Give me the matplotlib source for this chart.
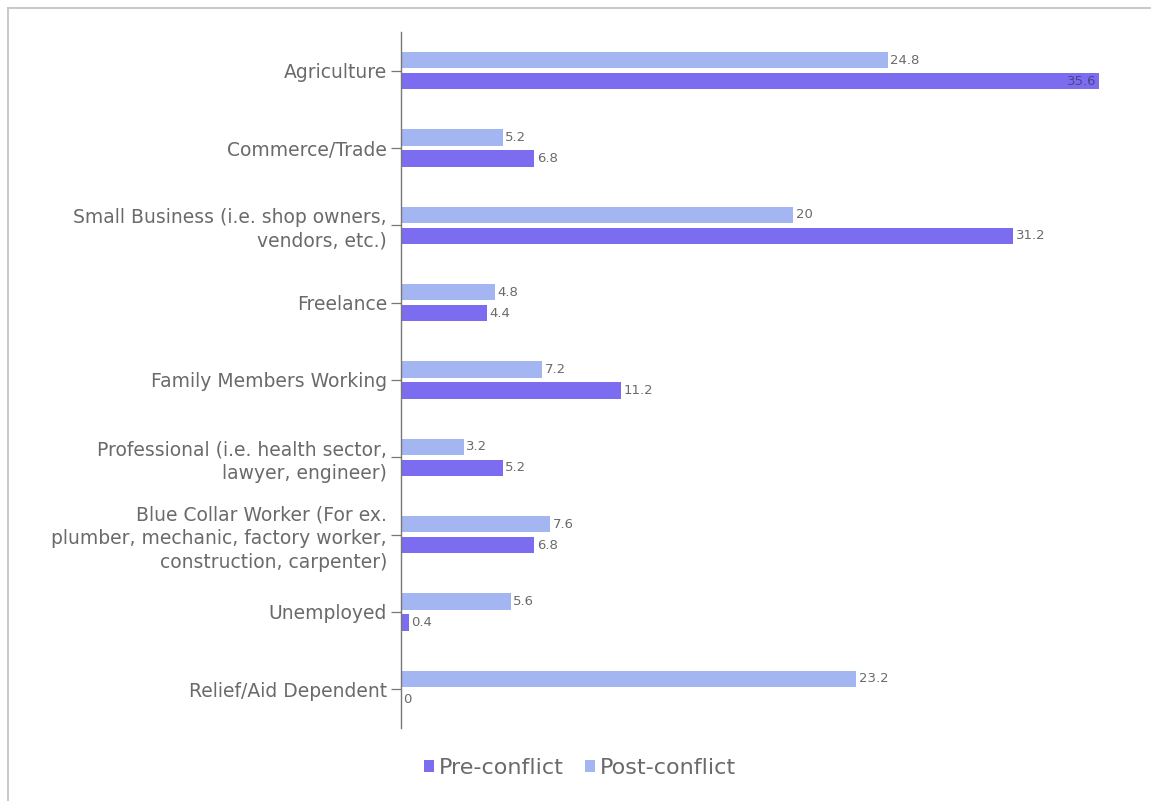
import numpy as np
import matplotlib.pyplot as plt

categories = [
    "Agriculture",
    "Commerce/Trade",
    "Small Business (i.e. shop owners,\nvendors, etc.)",
    "Freelance",
    "Family Members Working",
    "Professional (i.e. health sector,\nlawyer, engineer)",
    "Blue Collar Worker (For ex.\nplumber, mechanic, factory worker,\nconstruction, carpenter)",
    "Unemployed",
    "Relief/Aid Dependent",
]
pre_conflict = [35.6, 6.8, 31.2, 4.4, 11.2, 5.2, 6.8, 0.4, 0]
post_conflict = [24.8, 5.2, 20, 4.8, 7.2, 3.2, 7.6, 5.6, 23.2]

pre_color = "#7b6cf0"
post_color = "#a4b6f2"
text_color = "#6a6a6a"

plt.rcParams['font.family'] = ['DejaVu Sans']

W, H = 1151, 801
fig = plt.figure(figsize=(W / 100, H / 100), dpi=100)
fig.patch.set_facecolor("white")

# thin frame along the top and left
fig.add_artist(plt.Line2D([8 / W, 8 / W], [0, 1 - 8 / H], transform=fig.transFigure,
                          color="#c4c4c4", lw=1.3))
fig.add_artist(plt.Line2D([8 / W, 1], [1 - 8 / H, 1 - 8 / H], transform=fig.transFigure,
                          color="#c4c4c4", lw=1.3))

left, right, top, bottom = 401, 1120, 32, 728
ax = fig.add_axes([left / W, (H - bottom) / H, (right - left) / W, (bottom - top) / H])

y = np.arange(len(categories))
h = 0.21
off = 0.135
ax.barh(y - off, post_conflict, height=h, color=post_color, label="Post-conflict")
ax.barh(y + off, pre_conflict, height=h, color=pre_color, label="Pre-conflict")

xmax = (right - left) / 19.62
ax.set_xlim(0, xmax)
ax.set_ylim(len(categories) - 0.5, -0.5)

for yi, v in zip(y, post_conflict):
    ax.text(v + 0.12, yi - off, f"{v:g}", va="center", ha="left", fontsize=9.5, color=text_color)
for yi, v in zip(y, pre_conflict):
    if v > 33:
        ax.text(v - 0.15, yi + off, f"{v:g}", va="center", ha="right", fontsize=9.5, color="#4a4590")
    else:
        ax.text(v + 0.12, yi + off, f"{v:g}", va="center", ha="left", fontsize=9.5, color=text_color)

ax.set_yticks(y)
ax.set_yticklabels(categories, fontsize=13.5, color=text_color, linespacing=1.3)
ax.tick_params(axis="y", length=7, width=0.9, color="#777777", pad=3)
ax.set_xticks([])
for s in ["top", "right", "bottom"]:
    ax.spines[s].set_visible(False)
ax.spines["left"].set_color("#777777")
ax.spines["left"].set_linewidth(1.0)

handles, labels = ax.get_legend_handles_labels()
leg = fig.legend(handles[::-1], labels[::-1], loc="center", bbox_to_anchor=(580 / W, 1 - 768 / H),
                 ncol=2, frameon=False, fontsize=16, handlelength=0.45, handleheight=0.45,
                 handletextpad=0.2, columnspacing=1.0, labelcolor=text_color)

fig.savefig("out.png", dpi=100, facecolor="white")
